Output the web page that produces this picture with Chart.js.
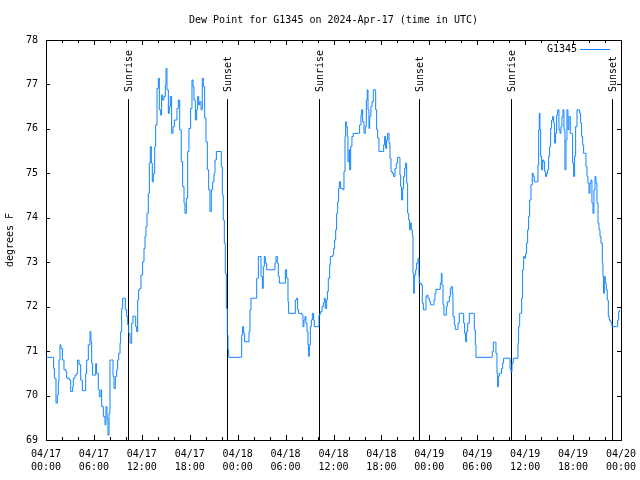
<!DOCTYPE html>
<html>
<head>
<meta charset="utf-8">
<script src="https://cdn.jsdelivr.net/npm/chart.js@4/dist/chart.umd.min.js"></script>
<style>
  html, body { margin: 0; padding: 0; background: #fff; }
  canvas { display: block; }
</style>
</head>
<body>
<canvas id="dew-chart" width="640" height="480"></canvas>
<script>
// hours since 2024-04-17 00:00 UTC
const timeHours = [
  0.00, 0.83, 0.95, 1.05, 1.25, 1.42, 1.54, 1.63, 1.75, 1.88,
  2.05, 2.25, 2.50, 2.59, 2.92, 3.09, 3.34, 3.42, 3.63, 3.84,
  3.96, 4.13, 4.34, 4.55, 4.80, 4.97, 5.09, 5.30, 5.51, 5.63,
  5.72, 5.84, 6.05, 6.22, 6.34, 6.55, 6.68, 6.89, 6.97, 7.18,
  7.39, 7.51, 7.64, 7.76, 7.89, 8.01, 8.22, 8.39, 8.51, 8.68,
  8.85, 8.97, 9.10, 9.27, 9.35, 9.47, 9.60, 9.81, 9.93, 10.10,
  10.23, 10.35, 10.52, 10.73, 10.89, 11.10, 11.23, 11.35, 11.48, 11.60,
  11.77, 11.89, 12.10, 12.27, 12.40, 12.52, 12.65, 12.81, 12.94, 13.06,
  13.19, 13.31, 13.44, 13.61, 13.73, 13.90, 14.07, 14.19, 14.36, 14.48,
  14.61, 14.77, 14.94, 15.03, 15.15, 15.32, 15.44, 15.57, 15.73, 15.90,
  16.07, 16.24, 16.40, 16.57, 16.74, 16.94, 17.11, 17.28, 17.40, 17.57,
  17.74, 17.90, 18.11, 18.28, 18.41, 18.53, 18.70, 18.86, 18.99, 19.12,
  19.24, 19.41, 19.57, 19.70, 19.87, 20.03, 20.20, 20.37, 20.53, 20.70,
  20.87, 21.04, 21.16, 21.33, 21.79, 21.95, 22.08, 22.20, 22.33, 22.45,
  22.58, 22.70, 22.79, 22.87, 24.37, 24.50, 24.62, 24.75, 24.87, 25.29,
  25.42, 25.54, 25.67, 26.25, 26.38, 26.59, 26.80, 26.92, 27.09, 27.21,
  27.34, 27.46, 27.63, 28.55, 28.67, 28.80, 28.96, 29.09, 29.22, 29.80,
  29.97, 30.13, 30.30, 30.38, 31.05, 31.22, 31.39, 31.51, 31.64, 32.05,
  32.18, 32.30, 32.43, 32.55, 32.68, 32.80, 32.89, 32.97, 33.10, 33.22,
  33.35, 33.51, 33.60, 34.14, 34.18, 34.31, 34.39, 34.56, 34.72, 34.85,
  34.97, 35.14, 35.23, 35.35, 35.52, 35.60, 35.89, 36.02, 36.14, 36.27,
  36.39, 36.52, 36.64, 36.73, 36.89, 37.23, 37.31, 37.44, 37.52, 37.60,
  37.73, 37.81, 37.94, 38.02, 38.15, 38.31, 38.48, 39.11, 39.27, 39.44,
  39.52, 39.65, 39.82, 39.98, 40.11, 40.23, 40.32, 40.44, 40.53, 40.69,
  40.82, 40.99, 41.15, 41.28, 41.40, 41.53, 41.69, 42.15, 42.28, 42.40,
  42.53, 42.65, 42.78, 42.95, 43.07, 43.20, 43.36, 43.53, 43.70, 43.86,
  44.03, 44.24, 44.32, 44.41, 44.53, 44.66, 44.78, 44.91, 45.03, 45.16,
  45.28, 45.41, 45.53, 45.62, 45.74, 45.87, 45.95, 46.04, 46.12, 46.29,
  46.41, 46.58, 46.70, 46.74, 46.99, 47.12, 47.25, 47.50, 47.58, 47.70,
  47.83, 48.00, 48.16, 48.41, 48.58, 48.71, 48.83, 49.25, 49.37, 49.50,
  49.58, 49.71, 49.83, 50.00, 50.13, 50.25, 50.50, 50.63, 50.75, 50.88,
  50.96, 51.13, 51.25, 51.46, 51.59, 51.75, 52.17, 52.30, 52.42, 52.55,
  52.67, 52.80, 53.01, 53.51, 53.63, 53.76, 53.84, 55.80, 55.88, 56.01,
  56.26, 56.34, 56.47, 56.55, 56.64, 56.76, 56.93, 57.05, 57.18, 57.30,
  58.01, 58.10, 58.22, 58.35, 58.51, 58.97, 59.10, 59.18, 59.31, 59.47,
  59.56, 59.68, 59.81, 59.93, 60.06, 60.18, 60.31, 60.43, 60.56, 60.73,
  60.89, 61.02, 61.14, 61.52, 61.60, 61.69, 61.77, 61.85, 61.94, 62.06,
  62.19, 62.31, 62.44, 62.56, 62.69, 62.81, 62.94, 63.06, 63.19, 63.31,
  63.44, 63.56, 63.69, 63.81, 63.94, 64.07, 64.23, 64.36, 64.48, 64.61,
  64.73, 64.86, 64.98, 65.11, 65.23, 65.36, 65.48, 65.65, 65.82, 65.94,
  66.07, 66.19, 66.32, 66.49, 66.69, 66.82, 66.94, 67.07, 67.20, 67.32,
  67.49, 67.61, 67.74, 67.86, 67.99, 68.11, 68.24, 68.36, 68.49, 68.61,
  68.74, 68.86, 68.99, 69.12, 69.24, 69.37, 69.49, 69.66, 69.74, 69.82,
  69.91, 70.03, 70.16, 70.28, 70.41, 70.53, 70.66, 70.78, 70.87, 71.46,
  71.58, 71.71, 71.83
];

// dew point, degrees F
const dewPointF = [
  70.86, 70.86, 70.61, 70.39, 69.83, 70.01, 70.31, 70.80, 71.14, 71.06,
  70.80, 70.58, 70.54, 70.39, 70.35, 70.09, 70.20, 70.39, 70.46, 70.50,
  70.80, 70.70, 70.35, 70.11, 70.11, 70.50, 70.80, 71.14, 71.44, 71.21,
  70.72, 70.46, 70.46, 70.72, 70.50, 70.13, 69.98, 70.13, 69.75, 69.53,
  69.34, 69.75, 69.49, 69.11, 69.60, 70.80, 70.80, 70.43, 70.16, 70.43,
  70.58, 70.80, 70.95, 71.18, 71.44, 71.96, 72.19, 72.19, 71.93, 71.78,
  71.59, 71.40, 71.18, 71.63, 71.79, 71.78, 71.55, 71.44, 72.15, 72.38,
  72.41, 72.71, 73.01, 73.31, 73.58, 73.80, 74.10, 74.55, 75.23, 75.60,
  75.23, 74.81, 75.00, 75.60, 76.09, 76.91, 77.14, 76.43, 76.31, 76.76,
  76.65, 76.73, 76.99, 77.36, 76.88, 76.35, 76.50, 76.73, 75.90, 76.05,
  76.20, 76.20, 76.46, 76.65, 75.98, 75.26, 74.70, 74.33, 74.10, 74.44,
  75.49, 76.01, 76.46, 77.10, 76.95, 76.65, 76.20, 76.43, 76.73, 76.54,
  76.61, 76.43, 77.14, 76.95, 76.24, 75.71, 75.08, 74.63, 74.14, 74.63,
  74.81, 75.00, 75.30, 75.49, 75.49, 75.15, 74.51, 73.95, 73.43, 72.75,
  71.96, 71.36, 71.03, 70.86, 70.86, 71.36, 71.55, 71.40, 71.21, 71.21,
  71.44, 71.93, 72.19, 72.19, 72.64, 73.13, 73.13, 72.68, 72.41, 72.90,
  73.13, 72.98, 72.83, 72.83, 72.98, 73.13, 72.98, 72.68, 72.53, 72.53,
  72.83, 72.64, 72.11, 71.85, 71.85, 72.15, 72.19, 71.93, 71.85, 71.81,
  71.55, 71.70, 71.78, 71.63, 71.44, 71.14, 70.88, 71.14, 71.55, 71.70,
  71.85, 71.70, 71.55, 71.55, 71.81, 71.85, 71.89, 72.00, 72.08, 72.19,
  71.96, 72.15, 72.34, 72.64, 72.94, 73.13, 73.16, 73.31, 73.50, 73.73,
  74.10, 74.36, 74.66, 74.81, 74.66, 74.63, 75.04, 75.83, 76.16, 76.05,
  75.83, 75.26, 75.53, 75.08, 75.60, 75.83, 75.90, 75.90, 76.09, 76.31,
  76.43, 76.16, 75.90, 76.05, 76.65, 76.88, 76.43, 76.01, 76.28, 76.50,
  76.61, 76.88, 76.88, 76.43, 75.98, 75.79, 75.49, 75.49, 75.64, 75.83,
  75.56, 75.75, 75.90, 75.68, 75.34, 75.04, 75.00, 74.93, 75.11, 75.23,
  75.36, 75.36, 74.96, 74.70, 74.40, 74.66, 74.93, 75.11, 75.23, 74.78,
  74.10, 73.95, 73.73, 73.88, 73.73, 73.61, 72.75, 72.30, 72.71, 72.83,
  72.98, 73.09, 72.68, 72.53, 72.49, 72.08, 71.93, 71.93, 72.23, 72.26,
  72.19, 72.11, 72.04, 72.04, 72.15, 72.30, 72.39, 72.39, 72.53, 72.75,
  72.49, 72.04, 71.81, 71.81, 72.00, 72.11, 72.23, 72.41, 72.45, 72.30,
  71.78, 71.59, 71.49, 71.49, 71.63, 71.85, 71.85, 71.63, 71.40, 71.21,
  71.44, 71.63, 71.85, 71.85, 71.48, 71.14, 70.86, 70.86, 70.99, 71.20,
  71.20, 70.95, 70.50, 70.20, 70.43, 70.50, 70.50, 70.61, 70.73, 70.84,
  70.84, 70.61, 70.54, 70.73, 70.84, 70.84, 71.18, 71.55, 71.85, 71.85,
  72.19, 72.83, 73.13, 73.09, 73.20, 73.43, 73.73, 74.03, 74.40, 74.74,
  75.00, 74.93, 74.81, 74.81, 75.19, 75.98, 76.35, 75.98, 75.38, 75.08,
  75.30, 75.26, 75.04, 74.93, 75.00, 75.08, 75.38, 75.60, 76.01, 76.20,
  76.28, 76.13, 75.68, 75.90, 76.31, 76.43, 75.98, 75.90, 76.05, 76.28,
  76.43, 75.98, 75.08, 75.75, 76.43, 75.98, 76.28, 75.90, 75.90, 75.23,
  74.93, 75.38, 76.05, 76.43, 76.43, 76.35, 76.13, 75.83, 75.64, 75.45,
  75.45, 75.15, 74.93, 74.78, 74.55, 74.78, 74.85, 74.33, 74.10, 74.63,
  74.93, 74.78, 74.33, 73.88, 73.73, 73.58, 73.43, 72.98, 72.68, 72.30,
  72.68, 72.53, 72.38, 72.15, 71.78, 71.70, 71.66, 71.63, 71.55, 71.55,
  71.70, 71.89, 71.93
];

const sunriseHours = [10.30, 34.22, 58.26];
const sunsetHours = [22.70, 46.74, 70.85];

const xTickLabels = [
  ['04/17', '00:00'], ['04/17', '06:00'], ['04/17', '12:00'], ['04/17', '18:00'],
  ['04/18', '00:00'], ['04/18', '06:00'], ['04/18', '12:00'], ['04/18', '18:00'],
  ['04/19', '00:00'], ['04/19', '06:00'], ['04/19', '12:00'], ['04/19', '18:00'],
  ['04/20', '00:00']
];

const titleText = 'Dew Point for G1345 on 2024-Apr-17 (time in UTC)';
const seriesName = 'G1345';
const lineColor = '#1084ff';
const monoFont = '"DejaVu Sans Mono", monospace';

// frame, inward ticks, sunrise/sunset markers, title and key, gnuplot style
const gnuplotDecor = {
    id: 'gnuplotDecor',
    beforeDatasetsDraw(chart) {
        const { ctx, chartArea: a, scales: { x, y } } = chart;
        ctx.save();
        ctx.strokeStyle = '#000';
        ctx.lineWidth = 1;
        ctx.beginPath();
        for (let h = 0; h <= 72; h += 2) {
            const px = Math.round(x.getPixelForValue(h)) + 0.5;
            const len = h % 6 === 0 ? 5 : 3;
            ctx.moveTo(px, a.bottom); ctx.lineTo(px, a.bottom - len);
            ctx.moveTo(px, a.top); ctx.lineTo(px, a.top + len);
        }
        for (let v = 69; v <= 78; v++) {
            const py = Math.round(y.getPixelForValue(v)) + 0.5;
            ctx.moveTo(a.left, py); ctx.lineTo(a.left + 4, py);
            ctx.moveTo(a.right, py); ctx.lineTo(a.right - 4, py);
        }
        const topPx = y.getPixelForValue(76.67);
        const markers = [];
        sunriseHours.forEach(h => markers.push([h, 'Sunrise']));
        sunsetHours.forEach(h => markers.push([h, 'Sunset']));
        markers.forEach(([h]) => {
            const px = Math.round(x.getPixelForValue(h)) + 0.5;
            ctx.moveTo(px, topPx); ctx.lineTo(px, a.bottom);
        });
        ctx.stroke();
        ctx.strokeRect(Math.round(a.left) + 0.5, Math.round(a.top) + 0.5,
            Math.round(a.right - a.left), Math.round(a.bottom - a.top));

        ctx.fillStyle = '#000';
        ctx.font = '10px ' + monoFont;
        ctx.textAlign = 'left';
        ctx.textBaseline = 'middle';
        markers.forEach(([h, label]) => {
            const px = Math.round(x.getPixelForValue(h)) + 1;
            ctx.save();
            ctx.translate(px, topPx - 7);
            ctx.rotate(-Math.PI / 2);
            ctx.fillText(label, 0, 0);
            ctx.restore();
        });
        ctx.restore();
    },
    afterDraw(chart) {
        const { ctx, chartArea: a } = chart;
        ctx.save();
        ctx.fillStyle = '#000';
        ctx.font = '10px ' + monoFont;
        ctx.textBaseline = 'middle';
        ctx.textAlign = 'center';
        ctx.fillText(titleText, (a.left + a.right) / 2, 20);
        ctx.textAlign = 'right';
        ctx.fillText(seriesName, a.right - 44, a.top + 9);
        ctx.strokeStyle = lineColor;
        ctx.lineWidth = 1;
        ctx.beginPath();
        ctx.moveTo(a.right - 41, a.top + 9.5);
        ctx.lineTo(a.right - 11, a.top + 9.5);
        ctx.stroke();
        ctx.restore();
    }
};

const chartCanvas = document.getElementById('dew-chart');
new Chart(chartCanvas, {
    type: 'line',
    data: {
        datasets: [{
            label: seriesName,
            data: timeHours.map((h, i) => ({ x: h, y: dewPointF[i] })),
            borderColor: lineColor,
            borderWidth: 1,
            pointRadius: 0,
            stepped: true,
            fill: false
        }]
    },
    options: {
        responsive: false,
        animation: false,
        devicePixelRatio: 1,
        layout: { padding: { top: 40, right: 19, left: 0, bottom: 0 } },
        plugins: {
            legend: { display: false },
            title: { display: false },
            tooltip: { enabled: false }
        },
        scales: {
            x: {
                type: 'linear',
                min: 0,
                max: 72,
                afterBuildTicks: s => { s.ticks = xTickLabels.map((_, i) => ({ value: i * 6 })); },
                afterFit: s => { s.height = 40; s.paddingLeft = 0; s.paddingRight = 0; },
                grid: { display: false, drawTicks: false },
                border: { display: false },
                ticks: {
                    autoSkip: false,
                    maxRotation: 0,
                    minRotation: 0,
                    padding: 8,
                    color: '#000',
                    font: { family: monoFont, size: 10, lineHeight: 1.3 },
                    callback: v => xTickLabels[Math.round(v / 6)]
                }
            },
            y: {
                min: 69,
                max: 78,
                afterFit: s => { s.width = 46; s.paddingTop = 0; s.paddingBottom = 0; },
                grid: { display: false, drawTicks: false },
                border: { display: false },
                ticks: {
                    stepSize: 1,
                    padding: 8,
                    color: '#000',
                    font: { family: monoFont, size: 10 }
                },
                title: {
                    display: true,
                    text: 'degrees F',
                    color: '#000',
                    font: { family: monoFont, size: 10 },
                    padding: { top: 4, bottom: 0 }
                }
            }
        }
    },
    plugins: [gnuplotDecor]
});
</script>
</body>
</html>
